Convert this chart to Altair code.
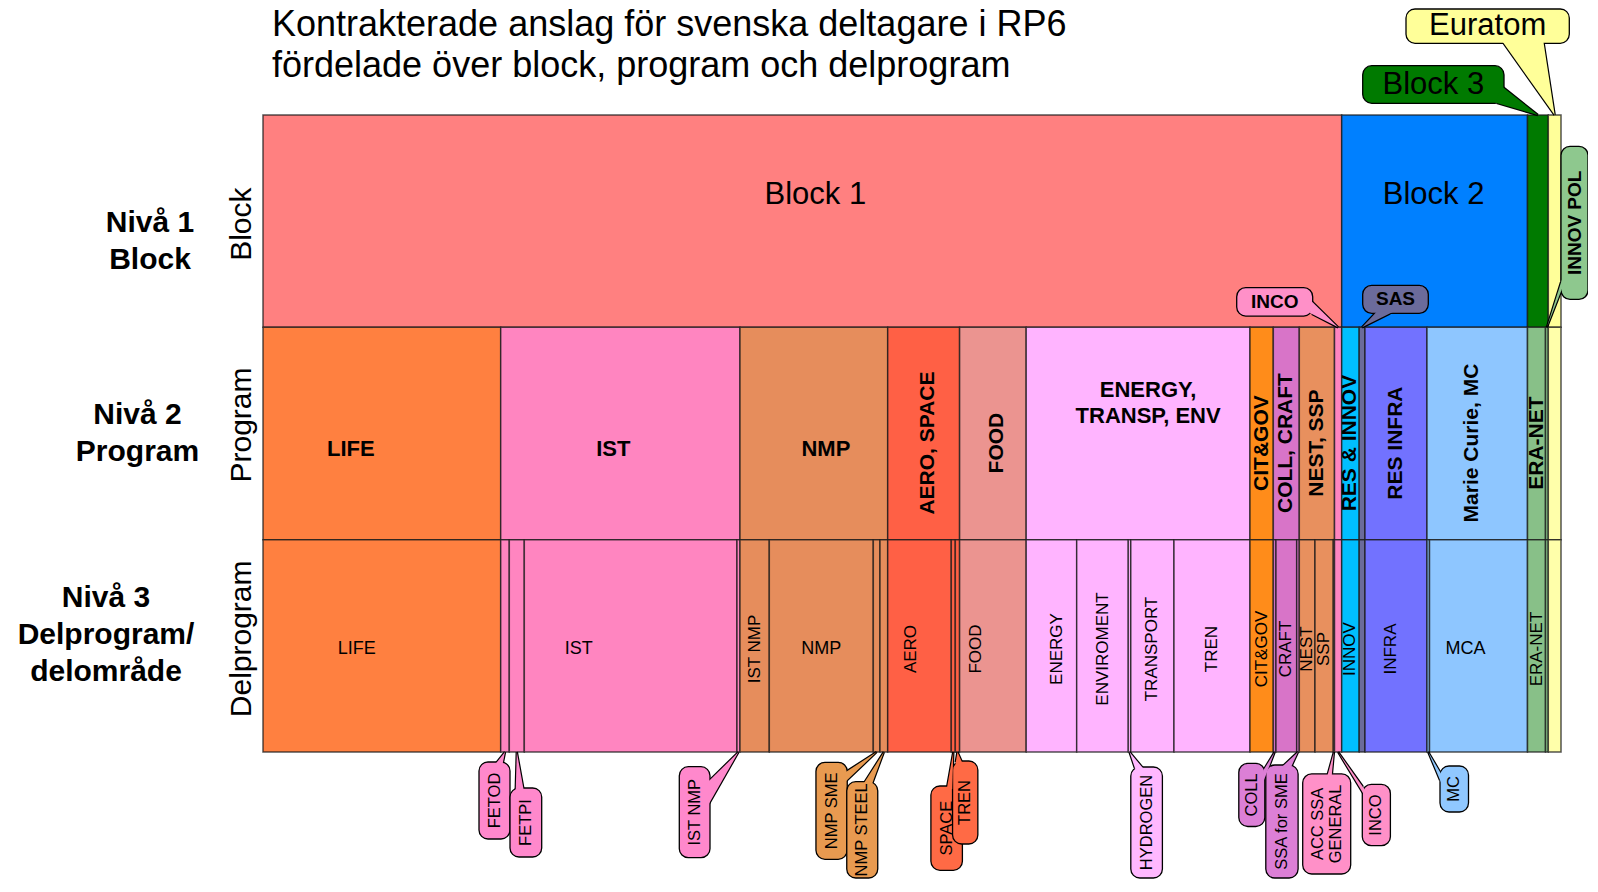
import altair as alt
import pandas as pd

FONT = "Liberation Sans"

# ---------------- data ----------------
levels = ["Block", "Program", "Delprogram"]
level_titles = ["Nivå 1\nBlock", "Nivå 2\nProgram", "Nivå 3\nDelprogram/\ndelområde"]
chart_title = "Kontrakterade anslag för svenska deltagare i RP6\nfördelade över block, program och delprogram"

block_names = ["Block 1", "Block 2", "Block 3", "Euratom"]
block_values = [1078.7, 185.8, 20.8, 12.7]
block_colors = ["#ff8080", "#0080ff", "#007a00", "#ffff99"]
block_labels = ["Block 1", "Block 2", "", ""]
block_orient = ["h", "h", "", ""]

program_names = ["LIFE", "IST", "NMP", "AERO, SPACE", "FOOD", "ENERGY, TRANSP, ENV",
                 "CIT&GOV", "COLL, CRAFT", "NEST, SSP", "INCO",
                 "RES & INNOV", "SAS", "RES INFRA", "Marie Curie, MC",
                 "ERA-NET", "INNOV POL", "Euratom"]
program_values = [237.7, 239.3, 147.7, 71.9, 66.6, 223.8,
                  23.3, 26.0, 35.2, 7.2,
                  17.5, 5.8, 62.0, 100.5,
                  18.0, 2.8, 12.7]
program_colors = ["#ff8040", "#ff85c0", "#e68d5c", "#ff6045", "#eb9490", "#ffb4ff",
                  "#ff8c1a", "#d874c8", "#e8905e", "#ff85c0",
                  "#00bfff", "#6b6b9b", "#7272ff", "#8ec6ff",
                  "#88c088", "#88c488", "#ffffaa"]
program_labels = ["LIFE", "IST", "NMP", "AERO, SPACE", "FOOD", "ENERGY,\nTRANSP, ENV",
                  "CIT&GOV", "COLL, CRAFT", "NEST, SSP", "",
                  "RES & INNOV", "", "RES INFRA", "Marie Curie, MC",
                  "ERA-NET", "", ""]
program_orient = ["h", "h", "h", "v", "v", "h", "v", "v", "v", "",
                  "v", "", "v", "v", "v", "", ""]

sub_names = ["LIFE", "FETOD", "FETPI", "IST", "IST NMP",
             "IST NMP", "NMP", "NMP SME", "NMP STEEL",
             "AERO", "SPACE", "TREN",
             "FOOD",
             "ENERGY", "ENVIROMENT", "HYDROGEN", "TRANSPORT", "TREN",
             "CIT&GOV", "COLL", "CRAFT", "SSA for SME",
             "NEST", "SSP", "ACC SSA GENERAL", "INCO",
             "INNOV", "SAS", "INFRA", "MC", "MCA", "ERA-NET", "INNOV POL", "Euratom"]
sub_values = [237.7, 8.6, 15.0, 212.7, 3.0,
              29.3, 104.0, 6.7, 7.7,
              63.6, 4.0, 4.3,
              66.6,
              50.5, 51.6, 2.5, 43.2, 76.0,
              23.3, 2.7, 20.7, 2.6,
              15.7, 18.3, 1.2, 7.2,
              17.5, 5.8, 62.0, 2.5, 98.0, 18.0, 2.8, 12.7]
sub_program = [0, 1, 1, 1, 1,
               2, 2, 2, 2,
               3, 3, 3,
               4,
               5, 5, 5, 5, 5,
               6, 7, 7, 7,
               8, 8, 8, 9,
               10, 11, 12, 13, 13, 14, 15, 16]
sub_labels = ["LIFE", "", "", "IST", "",
              "IST NMP", "NMP", "", "",
              "AERO", "", "",
              "FOOD",
              "ENERGY", "ENVIROMENT", "", "TRANSPORT", "TREN",
              "CIT&GOV", "", "CRAFT", "",
              "NEST", "SSP", "", "",
              "INNOV", "", "INFRA", "", "MCA", "ERA-NET", "", ""]
sub_orient = ["h", "", "", "h", "",
              "v", "h", "", "",
              "v", "", "",
              "v",
              "v", "v", "", "v", "v",
              "v", "", "v", "",
              "v", "v", "", "",
              "v", "", "v", "", "h", "v", "", ""]
sub_colors = [program_colors[p] for p in sub_program]

# callouts: text, level, segment index, box offsets from tip in px (dx0, dx1, dy0, dy1),
# pointer base points from tip in px, fill, style
callouts = [
    ("FETOD", 2, 1, (-26, 5, 10, 87), ((-8, 10), (-2, 10)), "#ff88cc", "sub"),
    ("FETPI", 2, 2, (-6.8, 24.9, 36, 105), ((-1, 36), (6.5, 36)), "#ff88cc", "sub"),
    ("IST NMP", 2, 4, (-59.2, -28.5, 14.7, 105.7), ((-28.5, 28), (-28.5, 50)), "#ff88cc", "sub"),
    ("NMP SME", 2, 7, (-60.7, -29.4, 10.3, 107.3), ((-29.4, 19), (-29.4, 28)), "#e89a50", "sub"),
    ("NMP STEEL", 2, 8, (-37.1, -6.1, 29.7, 126), ((-19, 29.7), (-11, 29.7)), "#e89a50", "sub"),
    ("SPACE", 2, 10, (-22.4, 9.1, 34, 118.3), ((-6, 34), (-1, 34)), "#ff6a45", "sub"),
    ("TREN", 2, 11, (-4.9, 20.4, 9, 92), ((-1.5, 9), (4, 9)), "#ff6a45", "sub"),
    ("HYDROGEN", 2, 15, (1.25, 32.85, 15, 126), ((5, 15), (12.5, 15)), "#ffb8ff", "sub"),
    ("COLL", 2, 19, (-35.85, -9.85, 11.3, 74.5), ((-9.85, 16), (-9.85, 26)), "#dc7fd6", "sub"),
    ("SSA for SME", 2, 21, (-32.2, 0.1, 13, 126), ((-14, 13), (-6, 13)), "#dc7fd6", "sub"),
    ("ACC SSA\nGENERAL", 2, 24, (-31.2, 16.8, 21.8, 122), ((-6, 21.8), (-2, 21.8)), "#ff90c8", "sub"),
    ("INCO", 2, 25, (24.2, 52.3, 32.4, 93.7), ((24.2, 34), (24.2, 40)), "#ff90c8", "sub"),
    ("MC", 2, 29, (11.75, 40.25, 14, 60), ((11.75, 20), (11.75, 28)), "#90c8ff", "sub"),
    ("Euratom", 0, 3, (-148.65, 14.65, -106, -71.7), ((-51, -71.7), (-11, -71.7)), "#ffff99", "big"),
    ("Block 3", 0, 2, (-175.2, -33.9, -49.3, -11.7), ((-33.9, -27), (-40, -11.7)), "#007a00", "big"),
    ("INCO", 1, 9, (-101.4, -25.4, -39.7, -11.3), ((-25.4, -25), (-25.4, -13)), "#ff90c8", "tag"),
    ("SAS", 1, 11, (0.6, 66.2, -42, -14), ((13, -14), (28, -14)), "#6b6b9b", "tag"),
    ("INNOV POL", 1, 15, (14.1, 41.1, -181, -28), ((14.1, -45), (14.1, -36)), "#8ec88e", "tagv"),
]

# ---------------- layout ----------------
PLOT_W, PLOT_H = 1298, 637
TOTAL = sum(block_values)
NLEV = len(levels)
UX = TOTAL / PLOT_W
UY = NLEV / PLOT_H

X_SCALE = alt.Scale(domain=[0, TOTAL], nice=False, zero=False)
Y_SCALE = alt.Scale(domain=[0, NLEV], reverse=True, nice=False, zero=False)


def X(f):
    return alt.X(f, type="quantitative", scale=X_SCALE, axis=None)


def Y(f):
    return alt.Y(f, type="quantitative", scale=Y_SCALE, axis=None)


def build_level(level, names, values, colors, labels, orients):
    out, start = [], 0.0
    for i, (n, v, c) in enumerate(zip(names, values, colors)):
        out.append(dict(level=level, idx=i, name=n, x0=start, x1=start + v,
                        mid=start + v / 2, y0=level, y1=level + 1, color=c,
                        label=labels[i], orient=orients[i]))
        start += v
    return out


rows = (build_level(0, block_names, block_values, block_colors, block_labels, block_orient)
        + build_level(1, program_names, program_values, program_colors, program_labels, program_orient)
        + build_level(2, sub_names, sub_values, sub_colors, sub_labels, sub_orient))
seg = pd.DataFrame(rows)

label_y_default = {(0, "h"): 0.377, (1, "h"): 1.575, (1, "v"): 1.545,
                   (2, "h"): 2.515, (2, "v"): 2.515}
label_dx = {(0, 0): 13, (0, 1): -1, (1, 0): -31, (1, 1): -7, (1, 2): 12, (1, 3): 4, (1, 4): 4,
            (1, 5): 10, (1, 13): -5, (2, 0): -25, (2, 3): -52, (2, 9): -9, (2, 12): -17,
            (2, 13): 6, (2, 28): -5, (2, 30): -13}
label_y = {(1, 5): 1.356}

label_styles = {(0, "h"): (31, "normal", 0, 36), (1, "h"): (22, "bold", 0, 26),
                (1, "v"): (21, "bold", 270, 24), (2, "h"): (18, "normal", 0, 20),
                (2, "v"): (17, "normal", 270, 20)}


def multiline_shift(text, lh, angle):
    """Vega puts the first line at the anchor; centre the whole block instead."""
    n = text.count("\n") + 1
    s = (n - 1) * lh / 2
    return (-s, 0.0) if angle == 270 else (0.0, -s)


lab = seg[seg["label"] != ""].copy()
lxs, lys = [], []
for m, l, i, o, t in zip(lab["mid"], lab["level"], lab["idx"], lab["orient"], lab["label"]):
    fs, fw, ang, lh = label_styles[(l, o)]
    sx, sy = multiline_shift(t, lh, ang)
    lxs.append(m + (label_dx.get((l, i), 0) + sx) * UX)
    lys.append(label_y.get((l, i), label_y_default[(l, o)]) + sy * UY)
lab["lx"] = lxs
lab["ly"] = lys

callout_styles = {"sub": (16.5, "normal", 270, 18), "big": (31, "normal", 0, 34),
                  "tag": (19, "bold", 0, 22), "tagv": (19, "bold", 270, 22)}

# callout geometry
tri_rows, tri_cover_rows, box_rows = [], [], []


def triangle(cid, tip, b1, b2, fill, ext, store):
    pts = [(0.0, 0.0), b1, b2]
    if ext:
        new = [pts[0]]
        for bx, by in (b1, b2):
            d = (bx ** 2 + by ** 2) ** 0.5 or 1.0
            new.append((bx + ext * bx / d, by + ext * by / d))
        pts = new
    pts = pts + [pts[0]]
    for o, (px, py) in enumerate(pts):
        store.append(dict(cid=cid, o=o, px=tip[0] + px * UX, py=tip[1] + py * UY, fillc=fill))


for k, (text, level, idx, box, base, fill, style) in enumerate(callouts):
    r = seg[(seg["level"] == level) & (seg["idx"] == idx)].iloc[0]
    dx0, dx1, dy0, dy1 = box
    ty = level + 1 if dy0 > 0 else level
    tip = (r["mid"], ty)
    triangle(k, tip, base[0], base[1], fill, 0, tri_rows)
    triangle(k, tip, base[0], base[1], fill, 3.0, tri_cover_rows)
    fs, fw, ang, lh = callout_styles[style]
    sx, sy = multiline_shift(text, lh, ang)
    box_rows.append(dict(cid=k, text=text, style=style, fillc=fill,
                         bx0=tip[0] + dx0 * UX, bx1=tip[0] + dx1 * UX,
                         by0=ty + dy0 * UY, by1=ty + dy1 * UY,
                         cx=tip[0] + ((dx0 + dx1) / 2 + sx) * UX,
                         cy=ty + ((dy0 + dy1) / 2 + sy) * UY))

tri = pd.DataFrame(tri_rows)
tri_cover = pd.DataFrame(tri_cover_rows)
boxes = pd.DataFrame(box_rows)

# ---------------- layers ----------------
layers = []

rects = alt.Chart(seg).mark_rect(stroke="#1a1a1a", strokeWidth=1.5, strokeOpacity=0.75).encode(
    x=X("x0"), x2="x1", y=Y("y0"), y2="y1",
    color=alt.Color("color:N", scale=None))
layers.append(rects)

for (lv, orient), (fs, fw, ang, lh) in label_styles.items():
    d = lab[(lab["level"] == lv) & (lab["orient"] == orient)]
    if len(d) == 0:
        continue
    layers.append(alt.Chart(d).mark_text(font=FONT, fontSize=fs, fontWeight=fw, angle=ang,
                                         align="center", baseline="middle", lineBreak="\n",
                                         lineHeight=lh, color="#000").encode(
        x=X("lx"), y=Y("ly"), text="label:N"))

# rotated level names
lvl_df = pd.DataFrame({"name": levels, "yy": [i + 0.5 + n for i, n in enumerate([0.014, -0.04, -0.033])]})
layers.append(alt.Chart(lvl_df).mark_text(font=FONT, fontSize=30, angle=270, align="center",
                                          baseline="middle", color="#000").encode(
    x=alt.value(-21), y=Y("yy"), text="name:N"))

# Nivå labels
for t, xv, yv in zip(level_titles, [-113, -125.5, -157], [116.5, 308.5, 491.5]):
    layers.append(alt.Chart(pd.DataFrame({"t": [t]})).mark_text(
        font=FONT, fontSize=30, fontWeight="bold", align="center", baseline="alphabetic",
        lineBreak="\n", lineHeight=37, color="#000").encode(
        x=alt.value(xv), y=alt.value(yv), text="t:N"))

# title
layers.append(alt.Chart(pd.DataFrame({"t": [chart_title]})).mark_text(
    font=FONT, fontSize=36, align="left", baseline="alphabetic", lineBreak="\n",
    lineHeight=41, color="#000").encode(x=alt.value(9), y=alt.value(-79), text="t:N"))

# callouts: pointer outline, box, pointer fill covering the joint, text
layers.append(alt.Chart(tri).mark_line(stroke="#000", strokeWidth=2.4, strokeJoin="miter",
                                       interpolate="linear").encode(
    x=X("px"), y=Y("py"), detail="cid:N", order="o:Q",
    fill=alt.Fill("fillc:N", scale=None)))
layers.append(alt.Chart(boxes).mark_rect(cornerRadius=9, stroke="#000", strokeWidth=1.3).encode(
    x=X("bx0"), x2="bx1", y=Y("by0"), y2="by1", color=alt.Color("fillc:N", scale=None)))
layers.append(alt.Chart(tri_cover).mark_line(strokeOpacity=0, strokeWidth=0,
                                             interpolate="linear").encode(
    x=X("px"), y=Y("py"), detail="cid:N", order="o:Q",
    fill=alt.Fill("fillc:N", scale=None)))

for st, (fs, fw, ang, lh) in callout_styles.items():
    d = boxes[boxes["style"] == st]
    layers.append(alt.Chart(d).mark_text(font=FONT, fontSize=fs, fontWeight=fw, angle=ang,
                                         align="center", baseline="middle", lineBreak="\n",
                                         lineHeight=lh, color="#000").encode(
        x=X("cx"), y=Y("cy"), text="text:N"))

chart = alt.layer(*layers).properties(
    width=PLOT_W, height=PLOT_H,
    padding={"left": 255, "top": 107, "right": 27, "bottom": 128},
    autosize=alt.AutoSizeParams(type="none"),
    background="white",
).configure_view(strokeWidth=0)

chart.save("out.html", embed_options={"renderer": "svg", "actions": False})
